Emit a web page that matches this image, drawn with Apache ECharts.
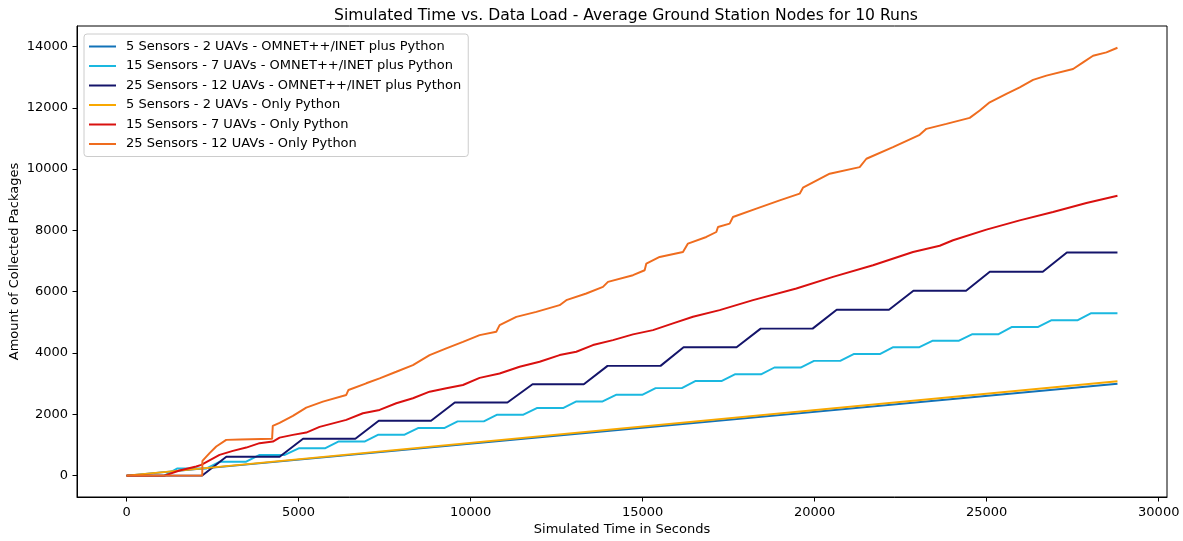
<!DOCTYPE html>
<html>
<head>
<meta charset="utf-8">
<script src="https://cdn.jsdelivr.net/npm/echarts@6/dist/echarts.min.js"></script>
<style>
html,body{margin:0;padding:0;background:#fff;}
#chart{width:1183px;height:541px;}
</style>
</head>
<body>
<div id="chart"></div>
<script>
// ---- data ----
const seriesNames = [
  '5 Sensors - 2 UAVs - OMNET++/INET plus Python',
  '15 Sensors - 7 UAVs - OMNET++/INET plus Python',
  '25 Sensors - 12 UAVs - OMNET++/INET plus Python',
  '5 Sensors - 2 UAVs - Only Python',
  '15 Sensors - 7 UAVs - Only Python',
  '25 Sensors - 12 UAVs - Only Python'
];
const xTicks = [0, 5000, 10000, 15000, 20000, 25000, 30000];
const yTicks = [0, 2000, 4000, 6000, 8000, 10000, 12000, 14000];

const omnet5Time = [0, 28800];
const omnet5Load = [0, 3000];

const omnet15Time = [0,1100,1480,2326,2716,3477,3867,4600,5018,5779,6169,6930,7320,8081,8471,9232,9622,10383,10773,11534,11924,12685,13075,13836,14226,14987,15377,16138,16528,17289,17679,18440,18830,19591,19981,20742,21132,21893,22283,23044,23434,24195,24585,25346,25736,26497,26887,27648,28038,28800];
const omnet15Load = [0,0,235,235,455,455,675,675,895,895,1115,1115,1335,1335,1553,1553,1769,1769,1986,1986,2204,2204,2420,2420,2637,2637,2855,2855,3085,3085,3305,3305,3527,3527,3744,3744,3965,3965,4190,4190,4400,4400,4615,4615,4850,4850,5070,5070,5300,5300];

const omnet25Time = [0,2200,2900,4450,5130,6650,7330,8850,9540,11070,11800,13290,13980,15520,16190,17730,18430,19940,20640,22160,22870,24400,25090,26630,27330,28800];
const omnet25Load = [0,0,615,615,1200,1200,1790,1790,2385,2385,2980,2980,3580,3580,4190,4190,4795,4795,5410,5410,6030,6030,6650,6650,7280,7280];

const python5Time = [0, 28800];
const python5Load = [0, 3080];

const python15Time = [0,1100,1540,2026,2171,2703,3091,3479,3866,4254,4448,4835,5223,5610,6386,6870,7355,7839,8323,8808,9293,9777,10262,10843,11424,12006,12587,13072,13556,14138,14719,15300,15882,16463,17238,18207,19467,20533,21695,22858,23634,24021,24991,25959,26927,27898,28800];
const python15Load = [0,0,166,297,352,677,807,915,1058,1110,1240,1328,1404,1590,1817,2035,2142,2360,2523,2738,2849,2956,3190,3330,3552,3715,3933,4041,4259,4421,4607,4747,4965,5182,5398,5724,6105,6483,6863,7297,7500,7678,8026,8329,8600,8892,9130];

const python25Time = [0,2200,2205,2413,2607,2897,3300,4230,4250,4448,4835,5223,5707,6386,6450,6967,7355,7839,8323,8808,9293,9777,10262,10746,10843,11328,11909,12587,12781,13362,13847,13992,14719,15058,15107,15494,16172,16317,16851,17142,17190,17529,17625,18305,18983,19564,19660,20436,21308,21503,22276,23052,23247,23828,24506,24797,25087,25572,25959,26347,26735,27510,27800,28091,28479,28800];
const python25Load = [0,0,480,733,948,1166,1180,1200,1621,1720,1950,2220,2413,2631,2794,3012,3174,3389,3607,3933,4151,4366,4584,4692,4910,5180,5343,5561,5724,5942,6157,6320,6538,6700,6918,7134,7297,7570,7785,7948,8110,8221,8436,8710,8980,9198,9393,9849,10064,10338,10715,11120,11314,11477,11672,11910,12180,12454,12669,12910,13049,13267,13484,13700,13808,13960];

const colors = ['#1272b8', '#1ab8e0', '#14146a', '#f9a800', '#d9100f', '#ef6c1e'];

// ---- build chart ----
const zip = (xs, ys) => xs.map((x, i) => [x, ys[i]]);
const allData = [
  zip(omnet5Time, omnet5Load),
  zip(omnet15Time, omnet15Load),
  zip(omnet25Time, omnet25Load),
  zip(python5Time, python5Load),
  zip(python15Time, python15Load),
  zip(python25Time, python25Load)
];

const FONT = 'DejaVu Sans';
const plain = v => String(v);
const chart = echarts.init(document.getElementById('chart'), null, {renderer: 'canvas'});
chart.setOption({
  animation: false,
  backgroundColor: '#ffffff',
  color: colors,
  title: {
    text: 'Simulated Time vs. Data Load - Average Ground Station Nodes for 10 Runs',
    left: 621, top: 3, textAlign: 'center',
    textStyle: {fontFamily: FONT, fontSize: 15.6, fontWeight: 'normal', color: '#000'}
  },
  legend: {
    orient: 'vertical', left: 84, top: 34,
    padding: [6, 7, 6, 5],
    itemWidth: 27, itemHeight: 2, itemGap: 6.5,
    icon: 'rect',
    backgroundColor: 'rgba(255,255,255,0.8)',
    borderColor: '#cccccc', borderWidth: 1, borderRadius: 3,
    textStyle: {fontFamily: FONT, fontSize: 13, color: '#000', lineHeight: 13, padding: [0, 0, 0, 5]},
    data: seriesNames
  },
  grid: {left: 77, right: 16, top: 26, bottom: 44, show: true, borderColor: '#000', borderWidth: 1, backgroundColor: 'transparent', containLabel: false, outerBoundsMode: 'none'},
  xAxis: {
    type: 'value', min: -1440, max: 30240,
    name: 'Simulated Time in Seconds', nameLocation: 'middle', nameGap: 26, nameMoveOverlap: false,
    nameTextStyle: {fontFamily: FONT, fontSize: 13, color: '#000'},
    axisLine: {show: true, onZero: false, lineStyle: {color: '#000', width: 1}},
    axisTick: {show: true, inside: false, length: 4.5, lineStyle: {color: '#000', width: 1}, customValues: xTicks},
    axisLabel: {fontFamily: FONT, fontSize: 13, color: '#000', margin: 9, customValues: xTicks, formatter: plain},
    splitLine: {show: false}
  },
  yAxis: {
    type: 'value', min: -698, max: 14669,
    name: 'Amount of Collected Packages', nameLocation: 'middle', nameGap: 56, nameMoveOverlap: false,
    nameTextStyle: {fontFamily: FONT, fontSize: 13, color: '#000'},
    axisLine: {show: true, onZero: false, lineStyle: {color: '#000', width: 1}},
    axisTick: {show: true, inside: false, length: 4.5, lineStyle: {color: '#000', width: 1}, customValues: yTicks},
    axisLabel: {fontFamily: FONT, fontSize: 13, color: '#000', margin: 9, customValues: yTicks, formatter: plain},
    splitLine: {show: false}
  },
  series: seriesNames.map((name, i) => ({
    name: name, type: 'line', data: allData[i],
    showSymbol: false, symbol: 'none',
    lineStyle: {width: 1.95, color: colors[i]},
    itemStyle: {color: colors[i]},
    emphasis: {disabled: true}, z: 2 + i
  }))
});
</script>
</body>
</html>
